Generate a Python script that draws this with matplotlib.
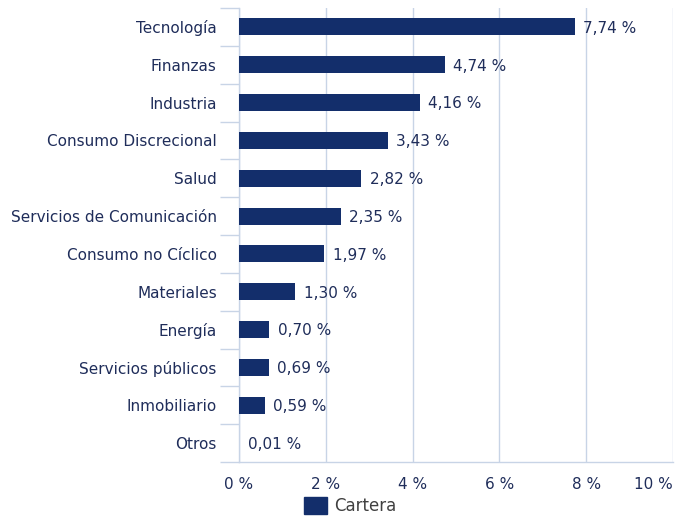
import matplotlib
matplotlib.use("Agg")
import matplotlib.pyplot as plt
from matplotlib.patches import Patch
import numpy as np

categories = ["Tecnología", "Finanzas", "Industria", "Consumo Discrecional", "Salud",
              "Servicios de Comunicación", "Consumo no Cíclico", "Materiales", "Energía",
              "Servicios públicos", "Inmobiliario", "Otros"]
values = [7.74, 4.74, 4.16, 3.43, 2.82, 2.35, 1.97, 1.30, 0.70, 0.69, 0.59, 0.01]
xticks = [0, 2, 4, 6, 8, 10]
xticklabels = ["0 %", "2 %", "4 %", "6 %", "8 %", "10 %"]
series_name = "Cartera"

bar_color = "#132e6b"
text_color = "#1f2d5a"
grid_color = "#c8d4e6"

plt.rcParams['font.family'] = ['DejaVu Sans']
fig = plt.figure(figsize=(6.91, 5.18), dpi=100)
ax = fig.add_axes([239/691, 56/518, (673-239)/691, (462-8)/518])

y = np.arange(len(categories))
ax.barh(y, values, height=0.45, color=bar_color, zorder=3)
ax.set_ylim(len(categories) - 0.5, -0.5)
ax.set_xlim(0, 10)

for yi, v in zip(y, values):
    ax.annotate(f"{v:.2f}".replace(".", ",") + " %", (v, yi), xytext=(6, -1),
                textcoords="offset points", va="center", ha="left",
                fontsize=11, color=text_color)

ax.set_yticks(y)
ax.set_yticklabels(categories, fontsize=11, color=text_color)
ax.tick_params(axis="y", which="major", length=0, pad=16)
ax.set_yticks(np.arange(-0.5, len(categories) + 0.5, 1), minor=True)
ax.tick_params(axis="y", which="minor", length=14, color=grid_color, width=1)

ax.set_xticks(xticks)
ax.set_xticklabels(xticklabels, fontsize=11, color=text_color)
ax.get_xticklabels()[-1].set_horizontalalignment("right")
ax.tick_params(axis="x", length=0, pad=11)
ax.xaxis.grid(True, color=grid_color, linewidth=1, zorder=0)

for s in ["top", "right"]:
    ax.spines[s].set_visible(False)
for s in ["left", "bottom"]:
    ax.spines[s].set_color(grid_color)
    ax.spines[s].set_linewidth(1)

handles = [Patch(facecolor=bar_color, edgecolor=bar_color)]
fig.legend(handles, [series_name], loc="lower center", bbox_to_anchor=(0.507, -0.024),
           frameon=False, fontsize=12, handlelength=1.35, handleheight=1.2,
           handletextpad=0.45, labelcolor="#404040")

fig.savefig("out.png", dpi=100)
